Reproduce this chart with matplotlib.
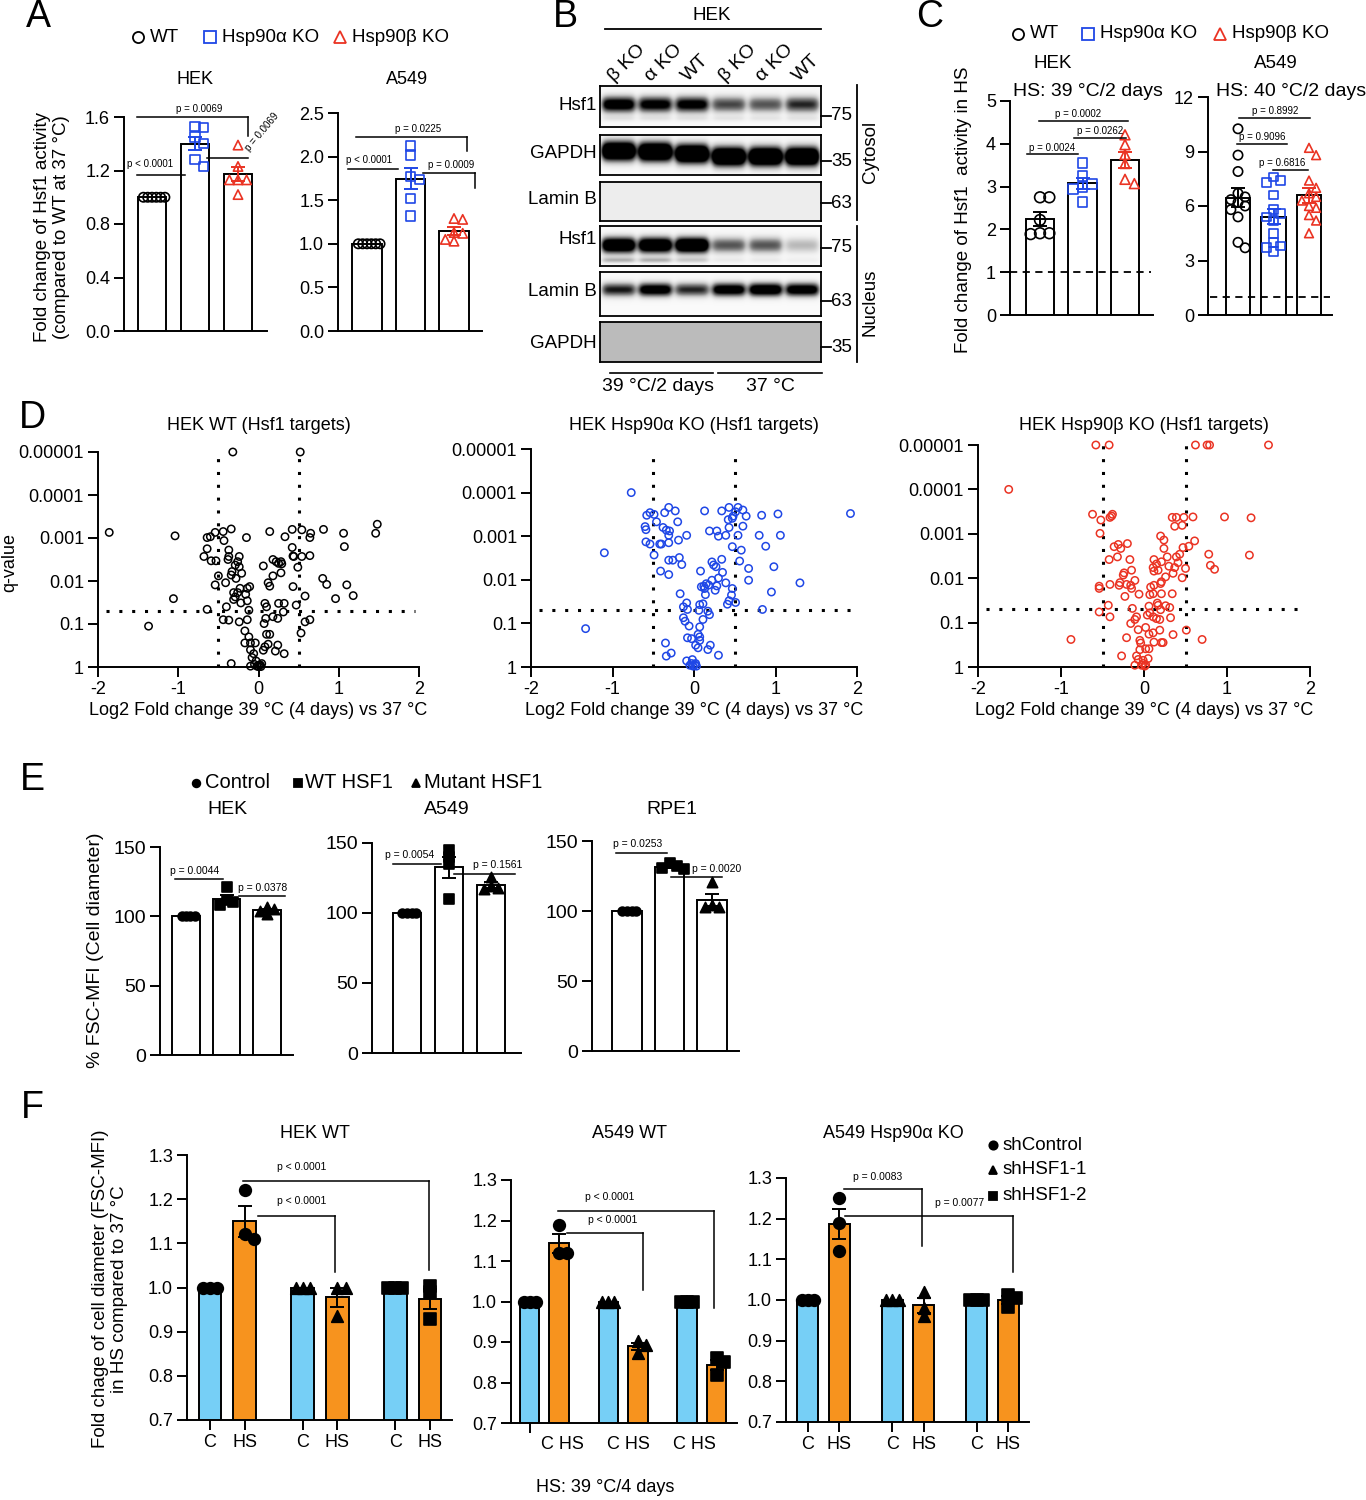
import numpy as np
import matplotlib
matplotlib.use('Agg')
import matplotlib.pyplot as plt
from matplotlib.lines import Line2D
from matplotlib.ticker import NullLocator

plt.rcParams['font.family'] = ['Liberation Sans', 'DejaVu Sans']
NARROW = ['Liberation Sans Narrow', 'Liberation Sans', 'DejaVu Sans']

BLUE = '#1f47e6'
RED = '#ea3323'
CBAR = '#76cff6'
OBAR = '#f7931e'

# ---------------- data ----------------
# A: fold change of Hsf1 activity (37 C)
a_hek_wt = [1.0, 1.0, 1.0, 1.0, 1.0, 1.0]
a_hek_ako = [1.53, 1.52, 1.45, 1.40, 1.28, 1.23]
a_hek_bko = [1.39, 1.23, 1.13, 1.13, 1.13, 1.02]
a_a549_wt = [1.0, 1.0, 1.0, 1.0, 1.0, 1.0]
a_a549_ako = [2.12, 2.02, 1.77, 1.74, 1.52, 1.32]
a_a549_bko = [1.29, 1.28, 1.13, 1.12, 1.05, 1.03]

# B: band intensities per lane (bKO, aKO, WT at 39C; bKO, aKO, WT at 37C)
lanes = ['β KO', 'α KO', 'WT', 'β KO', 'α KO', 'WT']
b_hsf1_cyto = [1.2, 1.1, 1.1, 0.75, 0.7, 0.85]
b_gapdh_cyto = [1.8, 1.8, 1.8, 1.8, 1.8, 1.8]
b_hsf1_nuc = [1.5, 1.5, 1.6, 0.7, 0.7, 0.35]
b_hsf1_nuc_low = [0.35, 0.35, 0.25, 0.1, 0.1, 0.08]
b_lamin_nuc = [0.9, 1.2, 0.85, 1.2, 1.3, 1.2]

# C: fold change of Hsf1 activity in HS
c_hek_wt = [2.75, 2.75, 2.22, 1.91, 1.91, 1.89]
c_hek_ako = [3.55, 3.24, 3.06, 3.00, 2.95, 2.64]
c_hek_bko = [4.21, 3.98, 3.75, 3.54, 3.17, 3.07]
c_a549_wt = [10.25, 8.8, 7.9, 6.7, 6.5, 6.35, 6.2, 6.0, 5.8, 5.4, 4.0, 3.7]
c_a549_ako = [7.6, 7.4, 7.3, 6.6, 5.8, 5.6, 5.4, 5.2, 4.5, 4.0, 3.8, 3.7, 3.5]
c_a549_bko = [9.2, 8.8, 7.4, 7.0, 6.7, 6.5, 6.3, 6.0, 5.9, 5.5, 5.2, 4.5]

# D: (log2 fold change, -log10 q)
d_wt = [(-0.32, 5.0), (0.52, 5.0), (-1.86, 3.13), (-1.04, 3.05), (1.48, 3.32), (1.46, 3.11),
        (1.06, 3.11), (1.07, 2.80), (0.81, 3.20), (0.65, 3.11), (0.64, 3.01), (0.54, 3.19),
        (0.42, 3.20), (0.33, 3.03), (0.14, 3.15), (-0.15, 3.01), (-0.34, 3.21), (-0.44, 3.15),
        (-0.54, 3.13), (-0.60, 3.03), (-0.64, 3.01), (-0.43, 2.94), (-0.64, 2.75), (-0.68, 2.57),
        (-0.59, 2.47), (-0.53, 2.47), (-0.37, 2.72), (-0.37, 2.57), (-0.38, 2.50), (-0.24, 2.57),
        (-0.26, 2.45), (-0.29, 2.37), (-0.24, 2.33), (-0.33, 2.22), (-0.34, 2.14), (-0.21, 2.18),
        (-0.28, 2.06), (-0.50, 2.12), (-0.54, 1.91), (-0.41, 1.96), (-0.23, 1.83), (-0.11, 1.87),
        (-0.14, 1.83), (-0.31, 1.73), (-0.26, 1.73), (-0.29, 1.63), (-0.16, 1.69), (-0.31, 1.57),
        (-0.22, 1.49), (-0.14, 1.54), (-0.12, 1.32), (-0.40, 1.40), (-0.64, 1.34), (-1.06, 1.59),
        (-0.44, 1.10), (-0.37, 1.09), (-0.24, 1.05), (-0.14, 1.10), (-1.37, 0.95), (-0.17, 0.84),
        (-0.12, 0.70), (-0.17, 0.56), (-0.10, 0.56), (-0.04, 0.56), (-0.10, 0.40), (-0.06, 0.31),
        (-0.08, 0.22), (-0.03, 0.14), (-0.10, 0.02), (-0.02, 0.02), (0.01, 0.04), (0.04, 0.08),
        (0.00, 0.01), (0.02, 0.05), (-0.05, 0.06), (0.03, 0.01),
        (-0.34, 0.08), (0.06, 0.39), (0.08, 0.47), (0.12, 0.53), (0.24, 0.51), (0.21, 0.37),
        (0.32, 0.31), (0.10, 0.76), (0.14, 0.76), (0.07, 1.01), (0.09, 1.13), (0.18, 1.17),
        (0.24, 1.13), (0.31, 1.28), (0.25, 1.48), (0.32, 1.48), (0.10, 1.40), (0.08, 1.48),
        (0.47, 1.44), (0.53, 0.79), (0.58, 1.05), (0.64, 1.10), (0.58, 1.65), (0.43, 1.87),
        (0.14, 1.88), (0.12, 1.96), (0.18, 2.12), (0.28, 2.19), (0.06, 2.35), (0.49, 2.32),
        (0.18, 2.50), (0.22, 2.45), (0.28, 2.45), (0.25, 2.41), (0.29, 2.40), (0.42, 2.78),
        (0.43, 2.58), (0.44, 2.57), (0.54, 2.57), (0.64, 2.59), (0.80, 2.06), (0.85, 1.92),
        (1.10, 1.91), (1.18, 1.66), (0.96, 1.59)]
d_ako = [(-0.77, 4.0), (1.92, 3.52), (-1.10, 2.62), (-1.33, 0.88), (-0.58, 3.48), (-0.54, 3.54),
         (-0.49, 3.50), (-0.31, 3.66), (-0.36, 3.54), (-0.23, 3.58), (-0.46, 3.33), (-0.20, 3.33),
         (-0.60, 3.22), (-0.59, 3.15), (-0.38, 3.20), (-0.34, 3.14), (-0.30, 3.12), (-0.31, 3.02),
         (-0.09, 3.02), (-0.59, 2.87), (-0.54, 2.82), (-0.42, 2.82), (-0.40, 2.82), (-0.31, 2.85),
         (-0.19, 2.91), (-0.49, 2.57), (-0.31, 2.45), (-0.26, 2.45), (-0.18, 2.51), (-0.15, 2.35),
         (-0.41, 2.20), (-0.31, 2.12), (0.13, 3.58), (0.34, 3.58), (0.43, 3.66), (0.54, 3.66),
         (0.51, 3.56), (0.60, 3.60), (0.64, 3.46), (0.48, 3.46), (0.42, 3.38), (0.47, 3.41),
         (0.83, 3.48), (1.03, 3.51), (0.43, 3.20), (0.60, 3.23), (0.19, 3.12), (0.28, 3.12),
         (0.30, 3.00), (0.39, 3.02), (0.54, 3.02), (0.80, 3.02), (1.06, 3.02), (0.88, 2.77),
         (0.47, 2.76), (0.58, 2.68), (0.56, 2.43), (0.67, 2.26), (0.67, 1.99), (0.98, 2.30),
         (1.30, 1.93), (0.95, 1.72), (0.34, 2.47), (0.22, 2.41), (0.24, 2.34), (0.27, 2.30),
         (0.08, 2.20), (0.35, 2.17), (0.30, 2.04), (0.39, 1.93), (0.22, 1.99), (0.15, 1.91),
         (0.09, 1.84), (0.12, 1.85), (0.18, 1.88), (0.28, 1.86), (0.26, 1.76), (0.47, 1.80),
         (0.46, 1.65), (0.13, 1.80), (0.14, 1.66), (0.11, 1.45), (0.07, 1.43), (0.43, 1.52),
         (0.41, 1.44), (0.51, 1.48), (0.84, 1.32), (-0.17, 1.68), (-0.09, 1.47), (-0.13, 1.38),
         (-0.08, 1.32), (0.06, 1.30), (0.17, 1.28), (0.19, 1.20), (-0.13, 1.13), (-0.11, 1.05),
         (0.11, 1.09), (-0.06, 0.94), (0.07, 0.92), (0.05, 0.75), (0.07, 0.69), (-0.08, 0.67),
         (-0.03, 0.65), (0.07, 0.61), (0.02, 0.50), (0.05, 0.44), (0.17, 0.40), (0.20, 0.50),
         (0.30, 0.27), (-0.35, 0.55), (-0.28, 0.32), (-0.34, 0.25), (-0.09, 0.14), (-0.02, 0.17),
         (-0.05, 0.04), (0.02, 0.08), (0.03, 0.02), (-0.01, 0.02), (-0.03, 0.08), (0.01, 0.05)]
d_bko = [(-0.58, 5.0), (-0.42, 5.0), (0.62, 5.0), (0.76, 5.0), (0.79, 5.0), (1.50, 5.0),
         (-1.63, 4.0), (-0.62, 3.44), (-0.52, 3.31), (-0.41, 3.37), (-0.38, 3.44), (-0.39, 3.40),
         (-0.53, 3.01), (0.34, 3.37), (0.39, 3.37), (0.48, 3.37), (0.59, 3.38), (0.37, 3.17),
         (0.46, 3.19), (0.97, 3.38), (1.29, 3.36), (1.27, 2.52), (0.61, 2.84), (0.54, 2.72),
         (0.47, 2.69), (0.43, 2.54), (0.39, 2.48), (0.41, 2.35), (0.37, 2.24), (0.50, 2.22),
         (0.46, 2.01), (0.20, 2.95), (0.24, 2.86), (0.24, 2.67), (0.28, 2.48), (0.78, 2.54),
         (0.80, 2.29), (0.85, 2.20), (-0.20, 2.78), (-0.31, 2.76), (-0.36, 2.71), (-0.28, 2.67),
         (-0.32, 2.48), (-0.42, 2.42), (-0.17, 2.42), (0.12, 2.42), (0.15, 2.32), (0.21, 2.37),
         (0.11, 2.24), (0.12, 2.16), (0.17, 2.18), (0.30, 2.27), (0.35, 2.11), (0.26, 2.03),
         (-0.15, 2.18), (-0.24, 2.12), (-0.25, 2.07), (-0.11, 1.95), (-0.29, 1.90), (-0.21, 1.86),
         (-0.16, 1.84), (-0.30, 1.84), (-0.41, 1.86), (-0.54, 1.82), (-0.54, 1.77), (-0.15, 1.77),
         (-0.06, 1.64), (-0.23, 1.59), (0.08, 1.80), (0.12, 1.84), (0.21, 1.92), (0.20, 1.88),
         (0.07, 1.63), (0.11, 1.65), (0.21, 1.65), (0.34, 1.65), (0.16, 1.44), (0.17, 1.39),
         (0.06, 1.37), (0.26, 1.38), (0.31, 1.34), (0.20, 1.29), (-0.14, 1.32), (-0.43, 1.39),
         (-0.54, 1.24), (-0.41, 1.13), (0.07, 1.22), (0.04, 1.17), (0.11, 1.13), (0.15, 1.09),
         (0.19, 1.07), (0.32, 1.11), (-0.09, 1.13), (-0.11, 1.07), (-0.16, 0.98), (-0.07, 0.84),
         (0.02, 0.89), (0.19, 0.83), (0.06, 0.74), (0.11, 0.77), (0.35, 0.73), (0.51, 0.83),
         (0.70, 0.62), (-0.21, 0.66), (-0.88, 0.62), (-0.05, 0.60), (-0.04, 0.54), (0.12, 0.56),
         (0.21, 0.55), (0.23, 0.55), (-0.05, 0.39), (0.02, 0.41), (0.06, 0.41), (-0.27, 0.25),
         (-0.09, 0.25), (-0.07, 0.17), (-0.01, 0.15), (0.05, 0.19), (-0.11, 0.04), (-0.03, 0.04),
         (0.01, 0.02), (-0.01, 0.08), (0.02, 0.05)]

# E: % FSC-MFI
e_hek = {'ctrl': [100, 100, 100, 100], 'wt': [121, 112, 110, 108], 'mut': [107, 105, 104, 102]}
e_a549 = {'ctrl': [100, 100, 100, 100], 'wt': [145, 140, 135, 110], 'mut': [126, 119, 118, 117]}
e_rpe1 = {'ctrl': [100, 100, 100, 100], 'wt': [134, 132, 131, 130], 'mut': [121, 104, 103, 103]}

# F: fold change of cell diameter; order shControl, shHSF1-1, shHSF1-2 ; C then HS
f_ctrl = [1.0, 1.0, 1.0]
f_hek_hs = [[1.22, 1.11, 1.12], [1.0, 1.0, 0.935], [1.003, 0.989, 0.928]]
f_a549_hs = [[1.19, 1.12, 1.12], [0.903, 0.893, 0.873], [0.86, 0.85, 0.818]]
f_ko_hs = [[1.25, 1.19, 1.12], [1.02, 0.98, 0.96], [1.012, 1.005, 0.982]]

# ---------------- helpers ----------------
W, H = 1366, 1500
fig = plt.figure(figsize=(W / 100, H / 100), dpi=100)


def px_axes(l, t, r, b):
    return fig.add_axes([l / W, 1 - b / H, (r - l) / W, (b - t) / H])


def ftext(x, y, s, **kw):
    kw.setdefault('ha', 'center')
    kw.setdefault('va', 'center')
    return fig.text(x / W, 1 - y / H, s, **kw)


def fmark(x, y, marker, color, filled=True, ms=8, mew=1.3):
    fig.add_artist(Line2D([x / W], [1 - y / H], marker=marker, ms=ms, mew=mew,
                          mec=color, mfc=color if filled else 'none',
                          transform=fig.transFigure, ls='none'))


def fline(x0, x1, y0, y1, lw=1.3):
    fig.add_artist(Line2D([x0 / W, x1 / W], [1 - y0 / H, 1 - y1 / H], color='k', lw=lw,
                          transform=fig.transFigure))


def style(ax, fs=13):
    for s in ['top', 'right']:
        ax.spines[s].set_visible(False)
    for s in ['left', 'bottom']:
        ax.spines[s].set_linewidth(1.4)
    ax.tick_params(width=1.4, length=7, labelsize=fs, direction='out', pad=3)


def bar_axes(l, t, r, b, c0, step, ylim):
    ax = px_axes(l, t, r, b)
    ax.set_xlim(-(c0 - l) / step, (r - c0) / step)
    ax.set_ylim(*ylim)
    style(ax)
    ax.set_xticks([])
    return ax


def swarm(vals, dy, dx):
    vals = np.asarray(vals, float)
    offs = np.zeros(len(vals))
    placed = []
    cands = [0.0] + [s * j * dx for j in range(1, 12) for s in (1, -1)]
    for i in np.argsort(-vals, kind='stable'):
        v = vals[i]
        for c in cands:
            if all(abs(c - pc) >= dx * 0.99 or abs(v - pv) >= dy for pc, pv in placed):
                offs[i] = c
                break
        placed.append((offs[i], v))
    return offs


def group(ax, x, vals, width, marker, color, filled, s, dx, dy, ecol='k',
          face='white', lw=1.2, cap=5):
    v = np.asarray(vals, float)
    m = v.mean()
    sem = v.std(ddof=1) / np.sqrt(len(v))
    ax.bar(x, m, width=width, color=face, edgecolor='k', linewidth=1.4, zorder=1)
    offs = swarm(v, dy, dx)
    ax.scatter(x + offs, v, s=s, marker=marker,
               facecolors=color if filled else 'none', edgecolors=color,
               linewidths=lw, zorder=3, clip_on=False)
    if sem > 0:
        ax.errorbar(x, m, yerr=sem, color=ecol, capsize=cap, elinewidth=1.4,
                    capthick=1.4, zorder=4, fmt='none')


def bracket(ax, x0, x1, y, text, tx, ty, drop=None, fs=7, lw=1.1, ha='center', rot=0):
    ax.plot([x0, x1], [y, y], color='k', lw=lw, clip_on=False, zorder=5)
    if drop is not None:
        ax.plot([x1, x1], [y, drop], color='k', lw=lw, clip_on=False, zorder=5)
    ax.text(tx, ty, text, fontsize=fs, ha=ha, va='bottom', rotation=rot,
            rotation_mode='anchor', clip_on=False)


# ---------------- panel letters ----------------
for lt, x, y in [('A', 38, 17), ('B', 565, 17), ('C', 930, 17), ('D', 32, 418),
                 ('E', 32, 780), ('F', 32, 1108)]:
    ftext(x, y, lt, fontsize=27)

# ---------------- A ----------------
ax = bar_axes(124, 117, 267, 331, 152, 43, (0, 1.6))
ax.set_yticks([0, 0.4, 0.8, 1.2, 1.6])
ax.set_yticklabels(['0.0', '0.4', '0.8', '1.2', '1.6'])
group(ax, 0, a_hek_wt, 0.67, 'o', 'k', False, 45, 0.1, 0.06)
group(ax, 1, a_hek_ako, 0.67, 's', BLUE, False, 45, 0.2, 0.06, ecol=BLUE)
group(ax, 2, a_hek_bko, 0.67, '^', RED, False, 45, 0.2, 0.06, ecol=RED)
bracket(ax, -0.35, 0.77, 1.163, 'p < 0.0001', -0.05, 1.21)
bracket(ax, -0.35, 2.23, 1.6, 'p = 0.0069', 1.09, 1.62, drop=1.455)
bracket(ax, 1.28, 2.23, 1.29, '', 0, 0)
ax.text(2.3, 1.33, 'p = 0.0069', fontsize=7, rotation=50, ha='left', va='bottom',
        rotation_mode='anchor', clip_on=False)
ftext(195, 80, 'HEK', fontsize=13)

ax = bar_axes(338, 113, 482, 331, 367, 43.5, (0, 2.5))
ax.set_yticks([0, 0.5, 1.0, 1.5, 2.0, 2.5])
ax.set_yticklabels(['0.0', '0.5', '1.0', '1.5', '2.0', '2.5'])
group(ax, 0, a_a549_wt, 0.67, 'o', 'k', False, 45, 0.1, 0.09)
group(ax, 1, a_a549_ako, 0.67, 's', BLUE, False, 45, 0.2, 0.09, ecol=BLUE)
group(ax, 2, a_a549_bko, 0.67, '^', RED, False, 45, 0.2, 0.09, ecol=RED)
bracket(ax, -0.44, 0.71, 1.86, 'p < 0.0001', 0.05, 1.9)
bracket(ax, -0.25, 2.30, 2.23, 'p = 0.0225', 1.17, 2.26, drop=2.06)
bracket(ax, 1.29, 2.48, 1.81, 'p = 0.0009', 1.93, 1.85, drop=1.64)
ftext(407, 80, 'A549', fontsize=13)

ftext(52, 227, 'Fold change of Hsf1 activity\n(compared to WT at 37 °C)',
      fontsize=13.5, rotation=90, linespacing=1.1)

# legend A
fmark(138, 37, 'o', 'k', False, ms=8)
ftext(150, 37, 'WT', fontsize=13.5, ha='left')
fmark(210, 37, 's', BLUE, False, ms=8)
ftext(222, 37, 'Hsp90α KO', fontsize=13.5, ha='left')
fmark(340, 37, '^', RED, False, ms=8)
ftext(352, 37, 'Hsp90β KO', fontsize=13.5, ha='left')

# ---------------- B ----------------
def blot(t, b, inten=None, centers=None, sigma=0.1, bg=0.03, extra=None):
    ax = px_axes(600, t, 821, b)
    h = int(b - t) * 2
    w = 221 * 2
    yy = np.linspace(0, 1, h)[:, None]
    xx = np.linspace(0, 6, w)[None, :]
    img = np.full((h, w), bg)
    rows = []
    if inten is not None:
        rows.append((inten, centers, sigma))
    if extra is not None:
        rows.append(extra)
    for ints, cs, sg in rows:
        for i, (a, c) in enumerate(zip(ints, cs)):
            hp = 1 / (1 + np.exp((np.abs(xx - (i + 0.5)) - 0.44) / 0.05))
            vp = np.exp(-0.5 * ((yy - c) / sg) ** 2)
            img = img + a * hp * vp
    img = np.clip(img, 0, 1)
    ax.imshow(img, cmap='Greys', vmin=0, vmax=1, aspect='auto', extent=(0, 6, 1, 0),
              interpolation='bilinear')
    ax.set_xticks([])
    ax.set_yticks([])
    for s in ax.spines.values():
        s.set_linewidth(1.3)
    return ax


blot(86, 127, b_hsf1_cyto, [0.45] * 6, 0.14, 0.04,
     extra=([0.12] * 6, [0.8] * 6, 0.05))
blot(135, 175, b_gapdh_cyto, [0.40, 0.42, 0.47, 0.54, 0.54, 0.54], 0.17, 0.04)
blot(182, 221, None, None, 0.1, 0.14)
blot(226, 266, b_hsf1_nuc, [0.48] * 6, 0.14, 0.04,
     extra=(b_hsf1_nuc_low, [0.86] * 6, 0.05))
blot(272, 316, b_lamin_nuc, [0.4] * 6, 0.11, 0.04)
blot(322, 362, None, None, 0.1, 0.38)

for lab, y in [('Hsf1', 105), ('GAPDH', 153), ('Lamin B', 200), ('Hsf1', 240),
               ('Lamin B', 291), ('GAPDH', 344)]:
    ftext(597, y, lab, fontsize=13.5, ha='right')
for mw, y in [('75', 116), ('35', 161), ('63', 203), ('75', 248), ('63', 301), ('35', 347)]:
    fline(821, 831, y, y)
    ftext(831, y, mw, fontsize=13.5, ha='left')
fline(857, 857, 85, 220)
fline(857, 857, 226, 362)
ftext(870, 152, 'Cytosol', fontsize=13.5, rotation=90)
ftext(870, 302, 'Nucleus', fontsize=13.5, rotation=90)
ftext(712, 16, 'HEK', fontsize=13.5)
fline(605, 821, 29, 29)
for i, lab in enumerate(lanes):
    cx = 600 + (i + 0.5) * 221 / 6
    fig.text((cx - 4) / W, 1 - 82 / H, lab, fontsize=14, rotation=45, ha='left',
             va='baseline', rotation_mode='anchor')
fline(610, 713, 373, 373, lw=1.2)
fline(718, 822, 373, 373, lw=1.2)
ftext(658, 386, '39 °C/2 days', fontsize=14)
ftext(770, 386, '37 °C', fontsize=14)

# ---------------- C ----------------
ax = bar_axes(1010, 101, 1153, 315, 1040, 42.5, (0, 5))
ax.set_yticks([0, 1, 2, 3, 4, 5])
ax.plot([-0.7, 2.6], [1, 1], color='k', ls=(0, (4, 3)), lw=1.3, zorder=2)
group(ax, 0, c_hek_wt, 0.68, 'o', 'k', False, 60, 0.22, 0.2)
group(ax, 1, c_hek_ako, 0.68, 's', BLUE, False, 50, 0.22, 0.2, ecol=BLUE)
group(ax, 2, c_hek_bko, 0.68, '^', RED, False, 50, 0.22, 0.2, ecol=RED)
bracket(ax, -0.31, 0.89, 3.75, 'p = 0.0024', 0.28, 3.79)
bracket(ax, 0.80, 2.02, 4.14, 'p = 0.0262', 1.41, 4.18)
bracket(ax, -0.02, 2.07, 4.53, 'p = 0.0002', 0.89, 4.57)
ftext(1053, 63, 'HEK', fontsize=13.5)
ftext(1088, 92, 'HS: 39 °C/2 days', fontsize=14)

ax = bar_axes(1208, 97, 1332, 315, 1238, 35.5, (0, 12))
ax.set_yticks([0, 3, 6, 9, 12])
ax.plot([-0.8, 2.6], [1, 1], color='k', ls=(0, (4, 3)), lw=1.3, zorder=2)
group(ax, 0, c_a549_wt, 0.68, 'o', 'k', False, 45, 0.2, 0.45)
group(ax, 1, c_a549_ako, 0.68, 's', BLUE, False, 40, 0.2, 0.45, ecol=BLUE)
group(ax, 2, c_a549_bko, 0.68, '^', RED, False, 40, 0.2, 0.45, ecol=RED)
bracket(ax, 0.03, 2.03, 10.84, 'p = 0.8992', 1.04, 10.95)
bracket(ax, -0.03, 1.38, 9.42, 'p = 0.9096', 0.68, 9.52)
bracket(ax, 0.99, 1.97, 7.99, 'p = 0.6816', 1.24, 8.1)
ftext(1276, 63, 'A549', fontsize=13.5)
ftext(1291, 92, 'HS: 40 °C/2 days', fontsize=14)

ftext(963, 210, 'Fold change of Hsf1  activity in HS', fontsize=13.5, rotation=90)
fmark(1018, 34, 'o', 'k', False, ms=8)
ftext(1030, 34, 'WT', fontsize=13.5, ha='left')
fmark(1088, 34, 's', BLUE, False, ms=8)
ftext(1100, 34, 'Hsp90α KO', fontsize=13.5, ha='left')
fmark(1220, 34, '^', RED, False, ms=8)
ftext(1232, 34, 'Hsp90β KO', fontsize=13.5, ha='left')

# ---------------- D ----------------
def volcano(l, t, r, b, pts, color, title):
    ax = px_axes(l, t, r, b)
    style(ax)
    x = np.array([p[0] for p in pts])
    q = 10.0 ** (-np.array([p[1] for p in pts]))
    ax.set_yscale('log')
    ax.set_xlim(-2, 2)
    ax.set_ylim(1, 1e-5)
    dot = (0, (1, 3.2))
    ax.plot([-0.5, -0.5], [1, 1e-5], color='k', ls=dot, lw=2.2, zorder=1)
    ax.plot([0.5, 0.5], [1, 1e-5], color='k', ls=dot, lw=2.2, zorder=1)
    ax.plot([-1.9, 1.95], [0.05, 0.05], color='k', ls=dot, lw=2.2, zorder=1)
    ax.scatter(x, q, s=28, facecolors='none', edgecolors=color, linewidths=1.1,
               zorder=3, clip_on=False)
    ax.set_yticks([1, 0.1, 0.01, 0.001, 0.0001, 0.00001])
    ax.set_yticklabels(['1', '0.1', '0.01', '0.001', '0.0001', '0.00001'])
    ax.yaxis.set_minor_locator(NullLocator())
    ax.set_xticks([-2, -1, 0, 1, 2])
    ax.set_xticklabels(['-2', '-1', '0', '1', '2'])
    ftext((l + r) / 2, 426, title, fontsize=13)
    ftext((l + r) / 2, 710, 'Log2 Fold change 39 °C (4 days) vs 37 °C', fontsize=13)
    return ax


volcano(98, 452, 419, 667, d_wt, 'k', 'HEK WT (Hsf1 targets)')
volcano(531, 449, 857, 667, d_ako, BLUE, 'HEK Hsp90α KO (Hsf1 targets)')
volcano(978, 445, 1310, 667, d_bko, RED, 'HEK Hsp90β KO (Hsf1 targets)')
ftext(10, 563, 'q-value', fontsize=13, rotation=90)

# ---------------- E ----------------
def e_panel(l, t, r, b, c0, step, d, title, tx, pv):
    ax = bar_axes(l, t, r, b, c0, step, (0, 150))
    ax.set_yticks([0, 50, 100, 150])
    for lab in ax.get_yticklabels():
        lab.set_family(NARROW)
        lab.set_fontsize(14)
    group(ax, 0, d['ctrl'], 0.69, 'o', 'k', True, 40, 0.11, 4)
    group(ax, 1, d['wt'], 0.69, 's', 'k', True, 55, 0.17, 5)
    group(ax, 2, d['mut'], 0.69, '^', 'k', True, 55, 0.17, 5)
    for (x0, x1, y, txt, tcx, ty) in pv:
        bracket(ax, x0, x1, y, txt, tcx, ty, fs=7.5)
    ftext(tx, 809, title, fontsize=14, family=NARROW)
    return ax


e_panel(160, 847, 293, 1055, 186, 40.5, e_hek, 'HEK', 227,
        [(-0.26, 0.91, 126.9, 'p = 0.0044', 0.22, 129),
         (1.31, 2.44, 114.8, 'p = 0.0378', 1.9, 117)])
e_panel(372, 843, 521, 1053, 407, 42, e_a549, 'A549', 447,
        [(-0.33, 0.81, 135.2, 'p = 0.0054', 0.05, 137.5),
         (1.12, 2.57, 128, 'p = 0.1561', 2.15, 130.5)])
e_panel(592, 841, 739, 1051, 627, 42.5, e_rpe1, 'RPE1', 672,
        [(-0.26, 0.94, 141.7, 'p = 0.0253', 0.26, 144),
         (1.04, 2.24, 124, 'p = 0.0020', 2.12, 126.5)])
ftext(95, 950, '% FSC-MFI (Cell diameter)', fontsize=14, rotation=90, family=NARROW)
fmark(196, 783, 'o', 'k', True, ms=5.5)
ftext(205, 783, 'Control', fontsize=14.5, ha='left', family=NARROW)
fmark(298, 783, 's', 'k', True, ms=5.5)
ftext(305, 783, 'WT HSF1', fontsize=14.5, ha='left', family=NARROW)
fmark(416, 783, '^', 'k', True, ms=5.5)
ftext(424, 783, 'Mutant HSF1', fontsize=14.5, ha='left', family=NARROW)

# ---------------- F ----------------
def f_panel(l, t, r, b, c0, step, gs, hs, title, tx, pv, ticks=True):
    ax = px_axes(l, t, r, b)
    ax.set_xlim(-(c0 - l) / step, (r - c0) / step)
    ax.set_ylim(0.7, 1.3)
    style(ax)
    ax.set_yticks([0.7, 0.8, 0.9, 1.0, 1.1, 1.2, 1.3])
    ax.set_yticklabels(['0.7', '0.8', '0.9', '1.0', '1.1', '1.2', '1.3'])
    pos = []
    for g, (mk, vals) in enumerate(zip(['o', '^', 's'], hs)):
        xc = g * gs
        xh = g * gs + 1
        group(ax, xc, f_ctrl, 0.66, mk, 'k', True, 70, 0.2, 0.01, face=CBAR)
        group(ax, xh, vals, 0.66, mk, 'k', True, 70, 0.26, 0.012, face=OBAR)
        pos += [xc, xh]
    if ticks:
        ax.set_xticks(pos)
        ax.set_xticklabels(['C', 'HS'] * 3)
    for (x0, x1, y, drop, txt, tcx, ty) in pv:
        bracket(ax, x0, x1, y, txt, tcx, ty, drop=drop, fs=7.5)
    ftext(tx, 1133, title, fontsize=13)
    return ax


f_panel(187, 1155, 452, 1420, 210, 34.7, 2.67, f_hek_hs, 'HEK WT', 315,
        [(0.95, 6.31, 1.242, 1.04, 'p < 0.0001', 2.65, 1.262),
         (1.38, 3.6, 1.162, 1.036, 'p < 0.0001', 2.65, 1.185)])
ax = f_panel(511, 1180, 737, 1423, 529.6, 29.5, 2.67, f_a549_hs, 'A549 WT', 630,
             [(0.96, 6.25, 1.223, 0.983, 'p < 0.0001', 2.73, 1.245),
              (1.27, 3.85, 1.168, 1.028, 'p < 0.0001', 2.8, 1.19)], ticks=False)
ax.set_xticks([0])
ax.set_xticklabels([''])
for xl in [1.13, 3.34, 5.6]:
    ax.text(xl, -0.055, 'C HS', transform=ax.get_xaxis_transform(), ha='center',
            va='top', fontsize=13)
f_panel(786, 1178, 1029, 1422, 807.8, 31.5, 2.68, f_ko_hs, 'A549 Hsp90α KO', 893,
        [(1.15, 3.62, 1.273, 1.133, 'p = 0.0083', 2.23, 1.29),
         (1.18, 6.51, 1.207, 1.07, 'p = 0.0077', 4.83, 1.225)])

ftext(110, 1289, 'Fold chage of cell diameter (FSC-MFI)\nin HS compared to 37 °C',
      fontsize=13.5, rotation=90, linespacing=1.1)
ftext(605, 1488, 'HS: 39 °C/4 days', fontsize=13)
for mk, lab, y in [('o', 'shControl', 1145), ('^', 'shHSF1-1', 1170), ('s', 'shHSF1-2', 1196)]:
    fmark(993, y, mk, 'k', True, ms=6)
    ftext(1003, y, lab, fontsize=13.5, ha='left')

fig.savefig('out.png', dpi=100)
